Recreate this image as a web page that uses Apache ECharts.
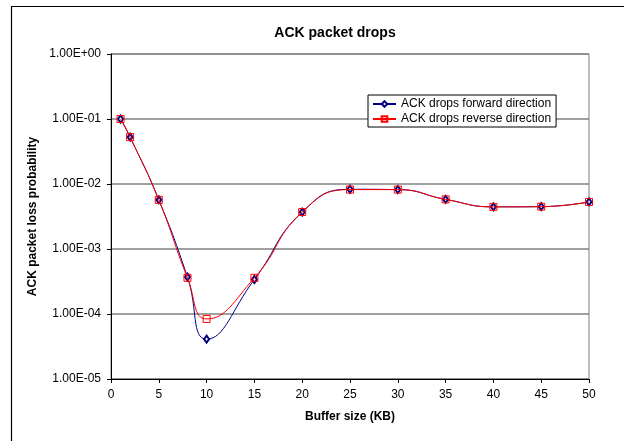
<!DOCTYPE html>
<html>
<head>
<meta charset="utf-8">
<script src="https://cdn.jsdelivr.net/npm/echarts@6/dist/echarts.min.js"></script>
<style>
html,body{margin:0;padding:0;background:#fff;}
#chart{width:624px;height:441px;}
</style>
</head>
<body>
<div id="chart"></div>
<script>
// Data
var bufferSizes = [1, 2, 5, 8, 10, 15, 20, 25, 30, 35, 40, 45, 50];
var forwardDrops = [0.1, 0.0527, 0.0057, 0.00037, 0.000041, 0.00034, 0.0037, 0.0083, 0.0082, 0.0058, 0.00445, 0.00448, 0.0053];
var reverseDrops = [0.1, 0.0527, 0.0057, 0.00036, 0.000084, 0.00036, 0.0037, 0.0082, 0.0082, 0.0058, 0.00445, 0.00448, 0.0053];
var seriesNames = ['ACK drops forward direction', 'ACK drops reverse direction'];
var xTickLabels = ['0', '5', '10', '15', '20', '25', '30', '35', '40', '45', '50'];
var yTickLabels = ['1.00E-05', '1.00E-04', '1.00E-03', '1.00E-02', '1.00E-01', '1.00E+00'];
var titleText = 'ACK packet drops';
var xAxisTitle = 'Buffer size (KB)';
var yAxisTitle = 'ACK packet loss probability';

function pairs(xs, ys) { return xs.map(function (x, i) { return [x, ys[i]]; }); }

var FONT = 'Liberation Sans, Arial, sans-serif';
var chart = echarts.init(document.getElementById('chart'), null, {renderer: 'canvas'});
chart.setOption({
  backgroundColor: '#ffffff',
  animation: false,
  title: {
    text: titleText,
    left: 330,
    textAlign: 'center',
    top: 21,
    textStyle: {fontFamily: FONT, fontSize: 14, fontWeight: 'bold', color: '#000'}
  },
  graphic: [{
    type: 'rect',
    shape: {x: 11.5, y: 6.5, width: 700, height: 500},
    style: {fill: 'none', stroke: '#000', lineWidth: 1.2},
    silent: true,
    z: -10
  }],
  legend: {
    orient: 'vertical',
    left: 368,
    top: 95,
    padding: [3, 5, 2, 4],
    itemGap: 3,
    itemWidth: 23,
    itemHeight: 7,
    backgroundColor: '#fff',
    borderColor: '#000',
    borderWidth: 1,
    textStyle: {fontFamily: FONT, fontSize: 12, color: '#000'},
    data: seriesNames
  },
  grid: {left: 111, right: 35, top: 54, bottom: 62, show: true, borderColor: '#808080', borderWidth: 1, backgroundColor: '#fff'},
  xAxis: {
    type: 'value',
    min: 0, max: 50, interval: 5,
    name: xAxisTitle,
    nameLocation: 'middle',
    nameGap: 32,
    nameTextStyle: {fontFamily: FONT, fontSize: 12, fontWeight: 'bold', color: '#000'},
    axisLine: {lineStyle: {color: '#000', width: 1}},
    axisTick: {length: 4, lineStyle: {color: '#000'}},
    axisLabel: {
      fontFamily: FONT, fontSize: 12, color: '#000', margin: 10,
      formatter: function (v) { return xTickLabels[Math.round(v / 5)]; }
    },
    splitLine: {show: false}
  },
  yAxis: {
    type: 'log',
    logBase: 10,
    min: 0.00001, max: 1,
    name: yAxisTitle,
    nameLocation: 'middle',
    nameGap: 72,
    nameTextStyle: {fontFamily: FONT, fontSize: 12, fontWeight: 'bold', color: '#000'},
    axisLine: {show: true, lineStyle: {color: '#000', width: 1}},
    axisTick: {show: true, length: 4, lineStyle: {color: '#000'}},
    axisLabel: {
      fontFamily: FONT, fontSize: 12, color: '#000', margin: 10,
      formatter: function (v) { return yTickLabels[Math.round(Math.log10(v)) + 5]; }
    },
    splitLine: {show: true, lineStyle: {color: '#808080', width: 1.5}}
  },
  series: [{
    name: seriesNames[0],
    type: 'line',
    smooth: 0.5,
    data: pairs(bufferSizes, forwardDrops),
    symbol: 'emptyDiamond',
    symbolSize: [5, 7],
    color: '#000080',
    lineStyle: {color: '#000080', width: 1},
    itemStyle: {color: '#000080', borderColor: '#000080', borderWidth: 1},
    z: 2
  }, {
    name: seriesNames[1],
    type: 'line',
    smooth: 0.5,
    data: pairs(bufferSizes, reverseDrops),
    symbol: 'rect',
    symbolSize: 7,
    color: '#ff0000',
    lineStyle: {color: '#ff0000', width: 1},
    itemStyle: {color: 'rgba(255,255,255,0)', borderColor: '#ff0000', borderWidth: 1},
    z: 3
  }]
});
</script>
</body>
</html>
